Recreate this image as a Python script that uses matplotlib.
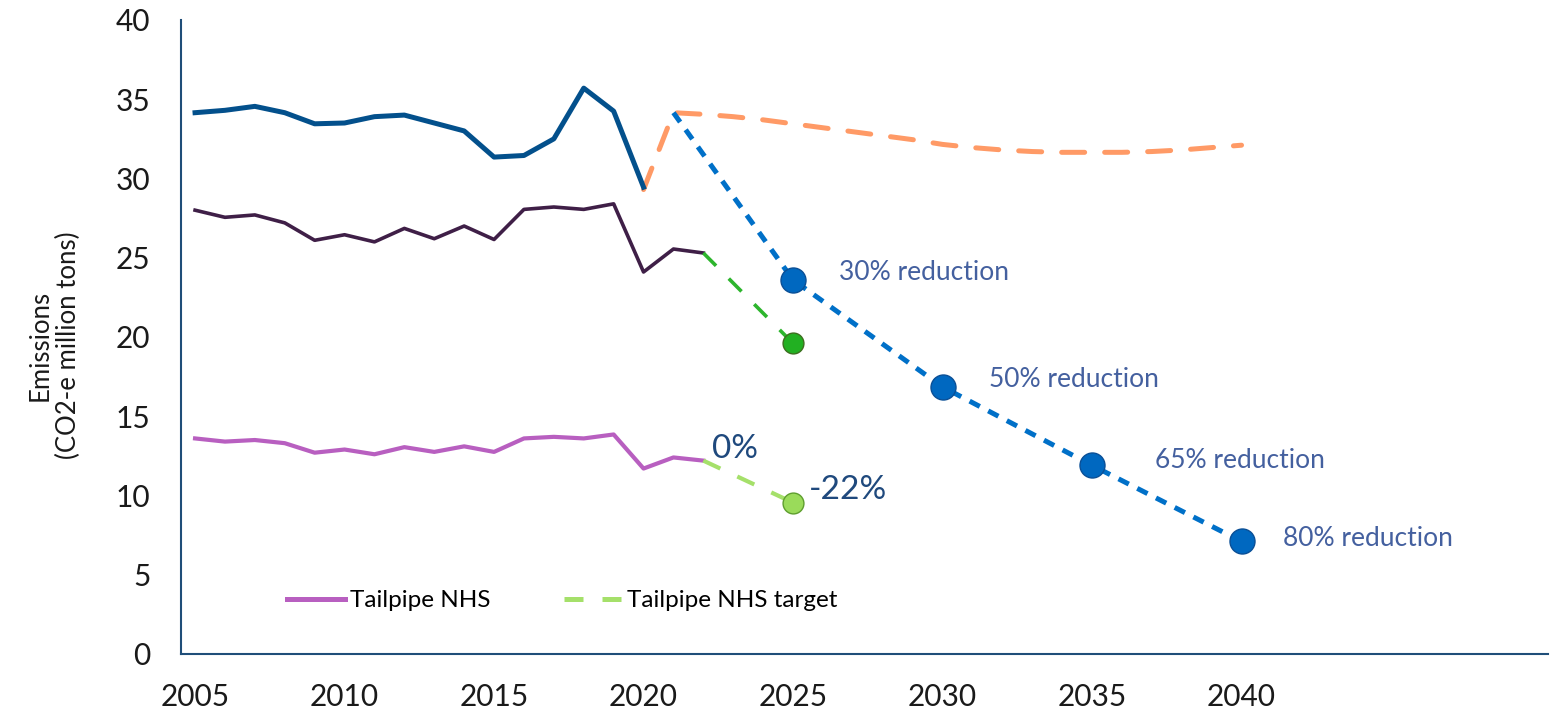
import matplotlib
matplotlib.use("Agg")
import matplotlib.pyplot as plt
from matplotlib.lines import Line2D

plt.rcParams['font.family'] = ['Lato', 'DejaVu Sans']

# historic total emissions (dark blue)
years_hist = list(range(2005, 2021))
total = [34.15, 34.3, 34.55, 34.15, 33.45, 33.5, 33.9, 34.0,
         33.5, 33.0, 31.35, 31.45, 32.5, 35.7, 34.25, 29.45]

# business as usual projection (orange dashes)
years_bau = list(range(2020, 2041))
bau = [29.3, 34.15, 34.05, 33.9, 33.7, 33.45, 33.2, 32.95, 32.7, 32.45, 32.15,
       31.95, 31.8, 31.7, 31.65, 31.65, 31.65, 31.7, 31.8, 31.95, 32.1]

# reduction pathway (blue dotted + dots)
years_path = [2021, 2025, 2030, 2035, 2040]
path = [34.15, 23.6, 16.85, 11.9, 7.1]
path_labels = ["30% reduction", "50% reduction", "65% reduction", "80% reduction"]

# tailpipe series
years_tp = list(range(2005, 2023))
tailpipe = [28.0, 27.55, 27.7, 27.2, 26.1, 26.45, 26.0, 26.85, 26.2, 27.0,
            26.15, 28.05, 28.2, 28.05, 28.4, 24.1, 25.55, 25.3]
years_tp_target = [2022, 2025]
tp_target = [25.3, 19.6]

tailpipe_nhs = [13.6, 13.4, 13.5, 13.3, 12.7, 12.9, 12.6, 13.05, 12.75, 13.1,
                12.75, 13.6, 13.7, 13.6, 13.85, 11.7, 12.4, 12.2]
nhs_target = [12.2, 9.55]
nhs_labels = ["0%", "-22%"]

xticks = [2005, 2010, 2015, 2020, 2025, 2030, 2035, 2040]

fig = plt.figure(figsize=(15.55, 7.16), dpi=100)
ax = fig.add_axes([0.1164, 0.0866, 0.8791, 0.8855])

ax.plot(years_hist, total, color='#03508C', lw=3.6, solid_joinstyle='round', zorder=3)
ax.plot(years_bau, bau, color='#FF9A66', lw=3.6, dashes=(4.6, 4.0),
        dash_capstyle='round', zorder=2)
ax.plot(years_path, path, color='#0070C8', lw=3.6, dashes=(2.3, 1.9), zorder=3)
ax.plot(years_path[1:], path[1:], 'o', color='#0068C0', mec='#0A4F96', mew=1,
        ms=18, zorder=4)

ax.plot(years_tp, tailpipe, color='#3F1F47', lw=2.6, zorder=3)
ax.plot(years_tp_target, tp_target, color='#2DB52D', lw=2.6, dashes=(5, 5), zorder=3)
ax.plot(years_tp_target[1:], tp_target[1:], 'o', color='#22B022', mec='#3C6E1E',
        mew=1, ms=15, zorder=4)

ax.plot(years_tp, tailpipe_nhs, color='#B85FC0', lw=3.0, zorder=3)
ax.plot(years_tp_target, nhs_target, color='#A5E06A', lw=3.0, dashes=(4.5, 4.5), zorder=3)
ax.plot(years_tp_target[1:], nhs_target[1:], 'o', color='#9ADB5A', mec='#5E9E2E',
        mew=1, ms=15, zorder=4)

# labels on the pathway
offsets = [(46, 7), (46, 7), (63, 5), (41, 3)]
for x, y, txt, off in zip(years_path[1:], path[1:], path_labels, offsets):
    ax.annotate(txt, (x, y), xytext=off, textcoords='offset pixels',
                ha='left', va='center', fontsize=19, color='#44609F')

nhs_off = [(9, 12), (16, 13)]
for x, y, txt, off in zip(years_tp_target, nhs_target, nhs_labels, nhs_off):
    ax.annotate(txt, (x, y), xytext=off, textcoords='offset pixels',
                ha='left', va='center', fontsize=24, color='#1F497D')

ax.set_xlim(2004.53, 2050.25)
ax.set_ylim(0, 40)
ax.set_xticks(xticks)
ax.set_yticks(range(0, 41, 5))
ax.tick_params(length=0, labelsize=21.5, colors='#1a1a1a', pad=22)
ax.tick_params(axis='x', pad=21)
for s in ['top', 'right']:
    ax.spines[s].set_visible(False)
for s in ['left', 'bottom']:
    ax.spines[s].set_color('#1F4E79')
    ax.spines[s].set_linewidth(1.5)

fig.text(54 / 1555, 1 - 345 / 716, "Emissions\n(CO2-e million tons)", rotation=90,
         ha='center', va='center', fontsize=18.5, multialignment='center',
         color='#1a1a1a', linespacing=1.15)

handles = [Line2D([], [], color='#B85FC0', lw=3.6),
           Line2D([], [], color='#A5E06A', lw=3.6, dashes=(3.8, 3.8))]
ax.legend(handles, ["Tailpipe NHS", "Tailpipe NHS target"], ncol=2, frameon=False,
          loc='center left', bbox_to_anchor=(0.0775, 0.0836), fontsize=17.5,
          borderaxespad=0, borderpad=0, handlelength=2.4, handletextpad=0.2,
          columnspacing=3.0)

plt.savefig('out.png', dpi=100)
